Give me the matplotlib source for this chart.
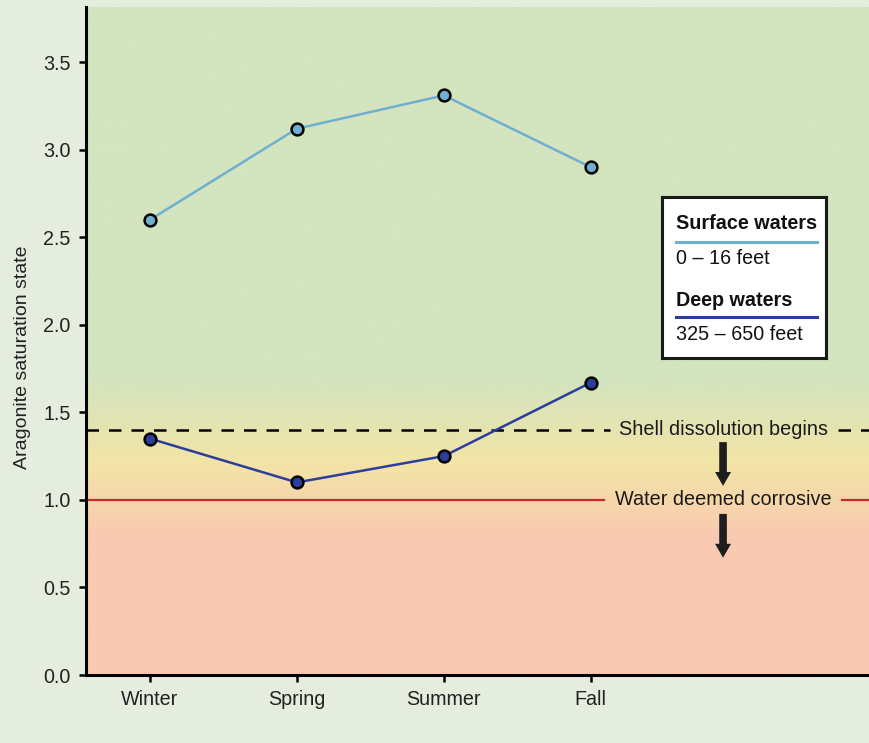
import numpy as np
import matplotlib.pyplot as plt
from matplotlib.colors import LinearSegmentedColormap, to_rgb

# data
seasons = ["Winter", "Spring", "Summer", "Fall"]
surface = [2.60, 3.12, 3.31, 2.90]
deep = [1.35, 1.10, 1.25, 1.67]
dissolution_level = 1.4
corrosive_level = 1.0

plt.rcParams["font.family"] = ["Liberation Sans", "DejaVu Sans"]

fig = plt.figure(figsize=(8.7, 7.43), dpi=100)
fig.patch.set_facecolor("#e5eddf")
ax = fig.add_axes([0.0989, 0.0915, 0.9011, 0.8991])

x = np.arange(len(seasons))
xlim = (-0.435, 4.9)
ymax = 3.815
ax.set_xlim(*xlim)
ax.set_ylim(0, ymax)

# background gradient (green -> yellow -> salmon)
stops = [(0.0, "#f9c9b1"), (0.78, "#f9c9b1"), (1.2, "#f3e4a6"),
         (1.68, "#d3e4bf"), (ymax, "#d3e4bf")]
cmap = LinearSegmentedColormap.from_list(
    "bg", [(v / ymax, to_rgb(c)) for v, c in stops])
grad = np.linspace(0, 1, 512).reshape(-1, 1)
ax.imshow(grad, cmap=cmap, aspect="auto", origin="lower",
          extent=[xlim[0], xlim[1], 0, ymax], zorder=0)

# threshold lines, broken around the labels
lab_x = 3.9
ax.plot([xlim[0], 3.13], [dissolution_level] * 2, color="black",
        lw=1.8, dashes=(5, 4), zorder=2)
ax.plot([4.68, xlim[1]], [dissolution_level] * 2, color="black",
        lw=1.8, dashes=(5, 4), zorder=2)
ax.plot([xlim[0], 3.09], [corrosive_level] * 2, color="#c8282e",
        lw=1.6, zorder=2)
ax.plot([4.71, xlim[1]], [corrosive_level] * 2, color="#c8282e",
        lw=1.6, zorder=2)
ax.text(lab_x, dissolution_level, "Shell dissolution begins",
        ha="center", va="center", fontsize=14.3, color="#1a1a1a", zorder=3)
ax.text(lab_x, corrosive_level, "Water deemed corrosive",
        ha="center", va="center", fontsize=14.3, color="#1a1a1a", zorder=3)

# down arrows
for y0, y1 in [(1.33, 1.08), (0.92, 0.67)]:
    ax.annotate("", xy=(lab_x, y1), xytext=(lab_x, y0),
                arrowprops=dict(arrowstyle="simple,head_width=1.15,head_length=1.0,tail_width=0.55",
                                color="#1e1e1e", lw=0, shrinkA=0, shrinkB=0),
                zorder=3)

# series
ax.plot(x, surface, color="#6fb0d0", lw=1.8, marker="o", ms=8.5,
        mfc="#6fb0d0", mec="black", mew=1.8, zorder=4)
ax.plot(x, deep, color="#2c3d9a", lw=1.8, marker="o", ms=8.5,
        mfc="#2c3d9a", mec="black", mew=1.8, zorder=4)

# axes styling
for s in ["top", "right"]:
    ax.spines[s].set_visible(False)
for s in ["left", "bottom"]:
    ax.spines[s].set_linewidth(2.2)
    ax.spines[s].set_color("black")
ax.set_xticks(x)
ax.set_xticklabels(seasons)
ax.set_yticks(np.arange(0, 3.6, 0.5))
ax.set_yticklabels([f"{v:.1f}" for v in np.arange(0, 3.6, 0.5)])
ax.tick_params(axis="both", direction="out", length=5, width=1.8,
               labelsize=14.2, labelcolor="#222222", pad=6)
ax.set_ylabel("Aragonite saturation state", fontsize=14, color="#222222")
ax.yaxis.set_label_coords(-0.070, 0.475)

# legend box
lax = fig.add_axes([662 / 870, 1 - 358 / 743, 164 / 870, 161 / 743])
lax.set_xlim(0, 1)
lax.set_ylim(0, 1)
lax.set_xticks([])
lax.set_yticks([])
lax.set_facecolor("white")
for s in lax.spines.values():
    s.set_linewidth(2.2)
    s.set_color("#1a1a1a")
lax.text(0.085, 0.835, "Surface waters", fontsize=14.2, fontweight="bold",
         va="center", ha="left", color="#111111")
lax.plot([0.085, 0.945], [0.72, 0.72], color="#6fb0d0", lw=2.2)
lax.text(0.085, 0.615, "0 \u2013 16 feet", fontsize=14.2, va="center",
         ha="left", color="#111111")
lax.text(0.085, 0.36, "Deep waters", fontsize=14.2, fontweight="bold",
         va="center", ha="left", color="#111111")
lax.plot([0.085, 0.945], [0.255, 0.255], color="#2c3d9a", lw=2.2)
lax.text(0.085, 0.145, "325 \u2013 650 feet", fontsize=14.2, va="center",
         ha="left", color="#111111")

fig.savefig("out.png", dpi=100, facecolor=fig.get_facecolor())
